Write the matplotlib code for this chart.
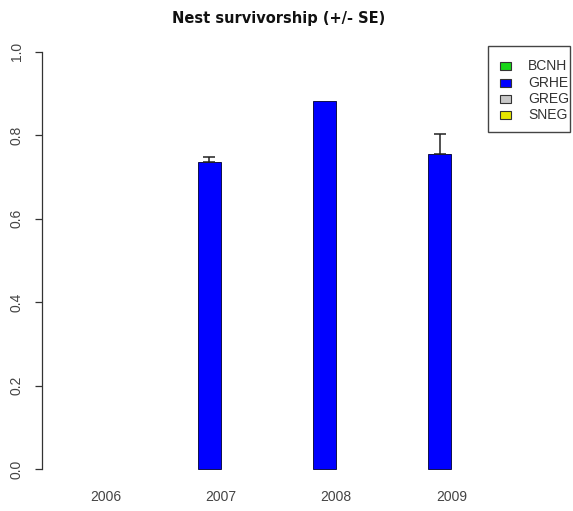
import numpy as np
import matplotlib
matplotlib.use("Agg")
import matplotlib.pyplot as plt
from matplotlib.patches import Rectangle

# Survivorship by species and year
species = ["BCNH", "GRHE", "GREG", "SNEG"]
colors = ["#19d719", "#0000ff", "#c8c8c8", "#e6e600"]
years = ["2006", "2007", "2008", "2009"]
survival = {
    "BCNH": [np.nan, np.nan, np.nan, np.nan],
    "GRHE": [np.nan, 0.735, 0.881, 0.755],
    "GREG": [np.nan, np.nan, np.nan, np.nan],
    "SNEG": [np.nan, np.nan, np.nan, np.nan],
}
std_err = {
    "BCNH": [np.nan, np.nan, np.nan, np.nan],
    "GRHE": [np.nan, 0.013, 0.0, 0.047],
    "GREG": [np.nan, np.nan, np.nan, np.nan],
    "SNEG": [np.nan, np.nan, np.nan, np.nan],
}
yticks = [0.0, 0.2, 0.4, 0.6, 0.8, 1.0]

plt.rcParams["font.family"] = ["Liberation Sans", "DejaVu Sans"]

fig = plt.figure(figsize=(5.73, 5.11), dpi=100)
ax = fig.add_axes([0.0728, 0.0495, 0.899 - 0.0728, 0.9315 - 0.0495])

# grouped bars: 4 bars per group, one unit gap between groups
n_sp = len(species)
group_w = n_sp + 1
for g, yr in enumerate(years):
    for i, sp in enumerate(species):
        v = survival[sp][g]
        if np.isnan(v):
            continue
        x = 1 + group_w * g + i + 0.5
        ax.bar(x, v, width=1.0, color=colors[i], edgecolor="#10104a", linewidth=0.7, zorder=2)
        se = std_err[sp][g]
        if se > 0:
            ax.errorbar(x, v, yerr=[[0], [se]], fmt="none", ecolor="#222222",
                        elinewidth=1.1, capsize=4.3, capthick=1.1, zorder=3)

xmin, xmax = 1, group_w * len(years)
pad = 0.04 * (xmax - xmin)
ax.set_xlim(xmin - pad, xmax + pad)
ax.set_ylim(-0.04, 1.04)

for s in ["top", "right", "bottom"]:
    ax.spines[s].set_visible(False)
ax.spines["left"].set_bounds(0, 1)
ax.spines["left"].set_color("#333333")
ax.spines["left"].set_linewidth(0.9)

ax.set_xticks([])
ax.set_yticks(yticks)
ax.set_yticklabels([f"{t:.1f}" for t in yticks], rotation=90, va="center",
                   fontsize=10, color="#444444")
ax.tick_params(axis="y", length=5, width=0.9, color="#333333", pad=8)

# year labels under each group
for g, yr in enumerate(years):
    xc = 1 + group_w * g + n_sp / 2
    ax.text(xc, -0.068, yr, ha="center", va="center", fontsize=10, color="#444444")

ax.set_title("Nest survivorship (+/- SE)", fontsize=10.5, fontweight="bold",
             family="DejaVu Sans", pad=9, color="#111111")

# legend box in figure pixels
W, H = 573, 511
def fx(px):
    return px / W
def fy(py):
    return 1 - py / H

fig.patches.append(Rectangle((fx(488), fy(132)), fx(570) - fx(488), fy(46) - fy(132),
                             transform=fig.transFigure, fill=False,
                             edgecolor="#444444", linewidth=1.0))
for k, sp in enumerate(species):
    cy = 66.5 + 16.2 * k
    fig.patches.append(Rectangle((fx(500), fy(cy + 4)), fx(511) - fx(500), fy(cy - 4) - fy(cy + 4),
                                 transform=fig.transFigure, facecolor=colors[k],
                                 edgecolor="#333333", linewidth=0.8))
    fig.text(fx(528), fy(cy), sp, ha="left", va="center", fontsize=10, color="#333333")

fig.savefig("out.png", dpi=100, facecolor="white")
